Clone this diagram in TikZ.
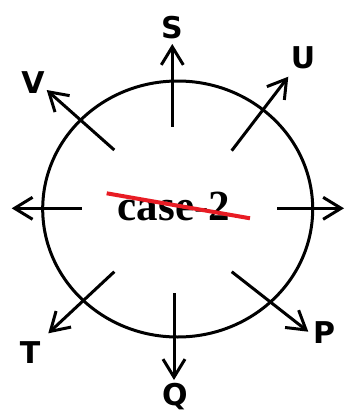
\documentclass[tikz,border=0pt]{standalone}
\usepackage{fontspec}
\usetikzlibrary{arrows.meta}
\newfontfamily\labfont{DejaVu Sans}
\newfontfamily\casefont{Liberation Serif}
\begin{document}
\begin{tikzpicture}[x=1pt,y=-1pt,
  dirarrow/.style={line width=3pt,-{Straight Barb[length=18pt,width=22pt,line width=3pt]}},
  lab/.style={font=\labfont\bfseries\fontsize{30}{30}\selectfont,inner sep=0pt},
  ring/.style={line width=3pt}]
\useasboundingbox (0,0) rectangle (348,416);
\coordinate (c) at (177.7,209);
\draw[ring] (c) ellipse [x radius=135pt, y radius=128pt];
% start points
\coordinate (s0) at (172.3,126.7);
\coordinate (s1) at (172.3,44);
\coordinate (u0) at (231.7,150.7);
\coordinate (u1) at (288.3,76.7);
\coordinate (v0) at (114.3,150);
\coordinate (v1) at (46.7,90);
\coordinate (l0) at (81.7,208.3);
\coordinate (l1) at (11.7,208.3);
\coordinate (r0) at (277.3,208.3);
\coordinate (r1) at (344,208.3);
\coordinate (t0) at (114.3,271.7);
\coordinate (t1) at (48.3,333.3);
\coordinate (q0) at (174,293.3);
\coordinate (q1) at (174,380);
\coordinate (p0) at (231.7,271.7);
\coordinate (p1) at (308.3,331.7);
\foreach \a in {s,u,v,l,r,t,q,p}{\draw[dirarrow] (\a0) -- (\a1);}
% labels
\node[lab] (S) at (172,28) {S};
\node[lab] (U) at (303,58) {U};
\node[lab] (V) at (33,83) {V};
\node[lab] (T) at (30,353) {T};
\node[lab] (Q) at (175,397) {Q};
\node[lab] (P) at (324,333) {P};
% centre text
\node[font=\casefont\bfseries\fontsize{43}{43}\selectfont,inner sep=0pt,anchor=base] (case) at (174,220) {case-2};
\coordinate (k0) at (106.7,193.3);
\coordinate (k1) at (250,218.3);
\draw[line width=4pt,color={rgb,255:red,232;green,28;blue,36}] (k0) -- (k1);
\end{tikzpicture}
\end{document}
